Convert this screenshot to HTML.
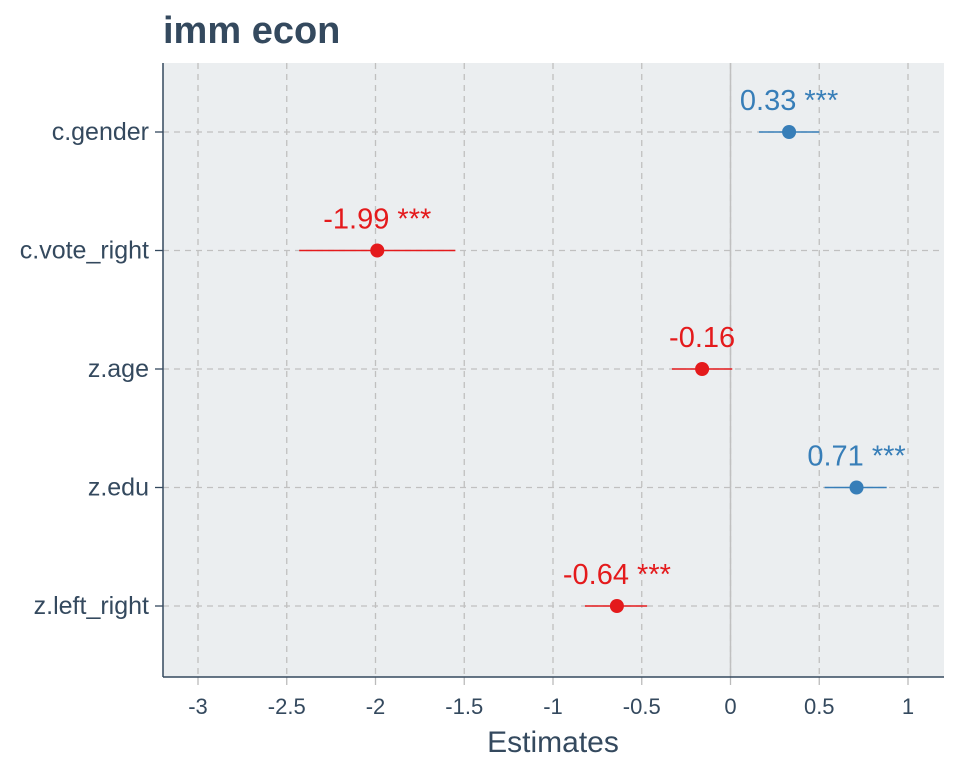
<!DOCTYPE html>
<html><head><meta charset="utf-8"><style>
body{margin:0;background:#fff;font-family:"Liberation Sans",sans-serif;}
svg text{font-family:"Liberation Sans",sans-serif;}
</style></head><body>
<svg id="chart" width="960" height="768" xmlns="http://www.w3.org/2000/svg">
<text x="163" y="43" font-size="38" font-weight="bold" fill="#34495e">imm econ</text>
<rect x="163" y="63" width="781" height="614" fill="#ebeef0"/>
<g id="grid"></g><g id="marks"></g><g id="axes"></g>
</svg>
<script>
const terms=["c.gender","c.vote_right","z.age","z.edu","z.left_right"];
const estimates=[0.33,-1.99,-0.16,0.71,-0.64];
const ciLow=[0.16,-2.43,-0.33,0.53,-0.82];
const ciHigh=[0.50,-1.55,0.01,0.88,-0.47];
const labels=["0.33 ***","-1.99 ***","-0.16","0.71 ***","-0.64 ***"];
const xTicks=[-3,-2.5,-2,-1.5,-1,-0.5,0,0.5,1];
const NS="http://www.w3.org/2000/svg";
function X(v){return 730.5+v*177.5;}
function Y(i){return 132+i*118.5;}
function mk(t,a,p){const e=document.createElementNS(NS,t);for(const k in a)e.setAttribute(k,a[k]);p.appendChild(e);return e;}
const grid=document.getElementById('grid'),marks=document.getElementById('marks'),axes=document.getElementById('axes');
xTicks.forEach(v=>{
 const g=mk('line',{x1:X(v),x2:X(v),y1:63,y2:677,stroke:'#c0c0c0','stroke-width':1.3,'stroke-dasharray':'6,5'},grid);
 
 const t=mk('line',{x1:X(v),x2:X(v),y1:677,y2:685,stroke:'#bbb','stroke-width':1.3},axes);
 
 const l=mk('text',{x:X(v),y:714,'font-size':22,'text-anchor':'middle',fill:'#34495e'},axes);l.textContent=v;
 
});
terms.forEach((n,i)=>{
 const g=mk('line',{x1:163,x2:944,y1:Y(i),y2:Y(i),stroke:'#c0c0c0','stroke-width':1.3,'stroke-dasharray':'6,5'},grid);
 
 const t=mk('line',{x1:155,x2:163,y1:Y(i),y2:Y(i),stroke:'#34495e','stroke-width':1.3},axes);
 
 const l=mk('text',{x:149,y:Y(i)+8,'font-size':25,'text-anchor':'end',fill:'#34495e'},axes);l.textContent=n;
 
});
const z=mk('line',{x1:X(0),x2:X(0),y1:63,y2:677,stroke:'#c0c0c0','stroke-width':1.5},grid);

terms.forEach((n,i)=>{
 const c=estimates[i]>0?'#377eb8':'#e41a1c';
 const ci=mk('line',{x1:X(ciLow[i]),x2:X(ciHigh[i]),y1:Y(i),y2:Y(i),stroke:c,'stroke-width':1.6},marks);
 
 const p=mk('circle',{cx:X(estimates[i]),cy:Y(i),r:7,fill:c},marks);
 
 const l=mk('text',{x:X(estimates[i]),y:Y(i)-22,'font-size':29,'text-anchor':'middle',fill:c},marks);l.textContent=labels[i];
 
});
const ya=mk('line',{x1:163,x2:163,y1:63,y2:677,stroke:'#34495e','stroke-width':1.5},axes);

const xa=mk('line',{x1:163,x2:944,y1:677,y2:677,stroke:'#34495e','stroke-width':1.5},axes);

const xt=mk('text',{x:553,y:752,'font-size':30,'text-anchor':'middle',fill:'#34495e'},axes);xt.textContent='Estimates';

</script>
</body></html>
